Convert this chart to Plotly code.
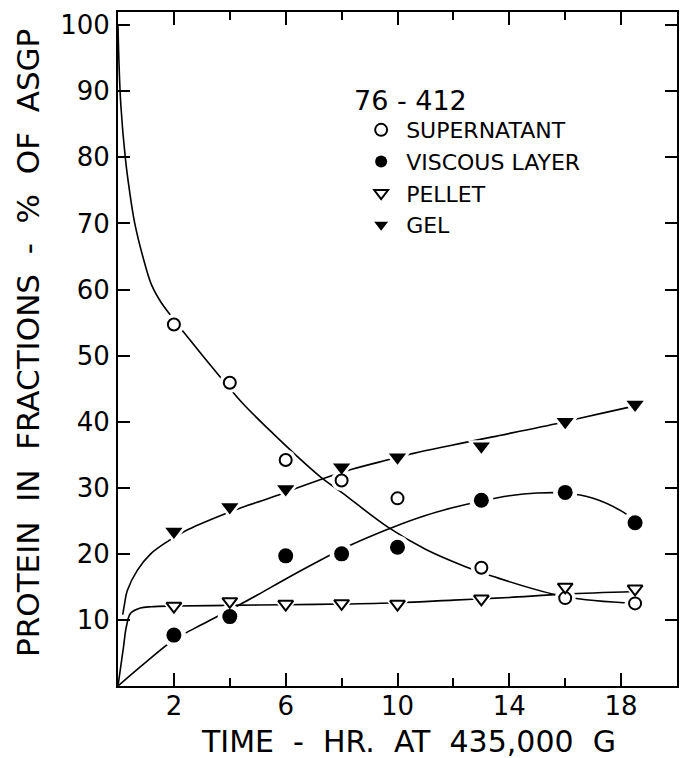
import plotly.graph_objects as go

# ---- measured data (hours, % of ASGP) ----
hours = [2, 4, 6, 8, 10, 13, 16, 18.5]
supernatant = [54.7, 45.9, 34.2, 31.1, 28.4, 17.9, 13.3, 12.5]
viscous = [7.7, 10.5, 19.7, 20.0, 21.0, 28.1, 29.3, 24.7]
pellet = [12.1, 12.8, 12.4, 12.5, 12.4, 13.2, 15.0, 14.7]
gel = [23.4, 27.1, 29.8, 33.1, 34.6, 36.3, 40.0, 42.6]

# ---- hand-drawn fitted curves ----
sup_curve_x = [0.0, 0.03, 0.1, 0.26, 0.41, 0.6, 0.9, 1.2, 1.55, 1.9, 2.36, 3.73, 4.5, 5.45, 6.4, 7.23, 8.0, 9.67, 11.0, 12.41, 13.4, 16.0, 18.5]
sup_curve_y = [100, 95, 88, 80, 75.0, 70, 64.8, 60.7, 58.0, 56.0, 53.5, 46.4, 42.6, 38.6, 34.8, 31.7, 29.3, 24.0, 20.7, 18.1, 16.6, 13.5, 12.5]

vis_curve_x = [0, 1, 2, 3, 4, 5, 6, 7, 8, 9, 10, 11, 12, 13, 14, 15, 16, 17, 18, 18.5]
vis_curve_y = [0, 3.6, 7.0, 9.3, 11.5, 13.8, 16.2, 18.5, 20.7, 22.6, 24.3, 25.8, 27.0, 28.0, 28.8, 29.2, 29.2, 28.4, 26.5, 25.0]

pel_curve_x = [0, 0.1, 0.2, 0.3, 0.45, 0.8, 1.2, 2, 4, 6, 8, 10, 12, 13, 14, 16, 18.5]
pel_curve_y = [0, 3, 6, 9, 11, 11.8, 12.0, 12.1, 12.2, 12.3, 12.4, 12.6, 13.0, 13.2, 13.4, 13.9, 14.3]

gel_curve_x = [0.17, 0.23, 0.33, 0.69, 1.17, 1.82, 2.42, 3.79, 4.62, 5.82, 6.5, 7.35, 8.37, 9.73, 10.57, 11.9, 13.4, 15.8, 16.6, 18.3, 18.6]
gel_curve_y = [10.8, 12.3, 14.4, 17.5, 20.0, 22.0, 23.5, 26.0, 27.3, 29.0, 30.1, 31.4, 32.8, 34.3, 35.2, 36.4, 37.7, 39.8, 40.6, 42.2, 42.5]

x_major = [2, 6, 10, 14, 18]
x_minor = [4, 8, 12, 16]
y_ticks = [10, 20, 30, 40, 50, 60, 70, 80, 90, 100]

FONT = "DejaVu Sans"
BLACK = "black"

fig = go.Figure()

curves = [
    (sup_curve_x, sup_curve_y),
    (vis_curve_x, vis_curve_y),
    (pel_curve_x, pel_curve_y),
    (gel_curve_x, gel_curve_y),
]
for cx, cy in curves:
    fig.add_trace(go.Scatter(x=cx, y=cy, mode="lines",
                             line=dict(color=BLACK, width=1.6, shape="spline", smoothing=1.0),
                             showlegend=False, hoverinfo="skip"))

series = [
    ("SUPERNATANT", supernatant, "circle", "white", 12, 2),
    ("VISCOUS LAYER", viscous, "circle", BLACK, 15, 0),
    ("PELLET", pellet, "triangle-down", "white", 13, 2),
    ("GEL", gel, "triangle-down", BLACK, 15, 0),
]

# white halos that interrupt the curves around each symbol
for name, vals, sym, fill, size, lw in series:
    fig.add_trace(go.Scatter(x=hours, y=vals, mode="markers",
                             marker=dict(symbol=sym, size=size + 9, color="white", line=dict(width=0)),
                             showlegend=False, hoverinfo="skip"))

for i, (name, vals, sym, fill, size, lw) in enumerate(series):
    fig.add_trace(go.Scatter(x=hours, y=vals, mode="markers", name=name,
                             legendgroup=f"g{i}",
                             marker=dict(symbol=sym, size=size, color=fill,
                                         line=dict(color=BLACK, width=lw))))

axis_common = dict(
    showline=True, linecolor=BLACK, linewidth=2, mirror="ticks",
    ticks="inside", tickcolor=BLACK, tickwidth=1.5,
    showgrid=False, zeroline=False, automargin=False,
)

fig.update_layout(
    width=686, height=758,
    margin=dict(l=118, r=9, t=12, b=72),
    paper_bgcolor="white", plot_bgcolor="white",
    font=dict(family=FONT, color=BLACK),
    xaxis=dict(
        range=[0, 20], tickmode="array", tickvals=x_major,
        ticktext=[str(v) for v in x_major], ticklen=13,
        tickfont=dict(size=26), ticklabelstandoff=-4,
        minor=dict(tickmode="array", tickvals=x_minor, ticks="inside", ticklen=8,
                   tickcolor=BLACK, tickwidth=1.5, showgrid=False),
        **axis_common,
    ),
    yaxis=dict(
        range=[0, 102], tickmode="array", tickvals=y_ticks,
        ticktext=[str(v) for v in y_ticks], ticklen=12,
        tickfont=dict(size=26), ticklabelstandoff=1,
        **axis_common,
    ),
    legend=dict(
        x=0.426, y=0.856, xanchor="left", yanchor="top",
        bgcolor="rgba(0,0,0,0)", borderwidth=0,
        font=dict(size=22, family=FONT), itemsizing="constant", itemwidth=40,
        traceorder="grouped", tracegroupgap=0,
    ),
    annotations=[
        dict(text="76 - 412", xref="paper", yref="paper",
             x=(352 - 118) / 559, y=(686 - 101) / 674, xanchor="left", yanchor="middle",
             showarrow=False, font=dict(size=27, family=FONT)),
        dict(text="TIME  -  HR.  AT  435,000  G", xref="paper", yref="paper",
             x=(408 - 118) / 559, y=(686 - 741) / 674, xanchor="center", yanchor="middle",
             showarrow=False, font=dict(size=30, family=FONT)),
        dict(text="PROTEIN  IN  FRACTIONS  -  %  OF  ASGP", xref="paper", yref="paper",
             x=(28 - 118) / 559, y=(686 - 343) / 674, xanchor="center", yanchor="middle",
             textangle=-90, showarrow=False, font=dict(size=31, family=FONT)),
    ],
)

fig.write_html("out.html", config={"displayModeBar": False},
               post_script="document.body.style.margin='0';")
